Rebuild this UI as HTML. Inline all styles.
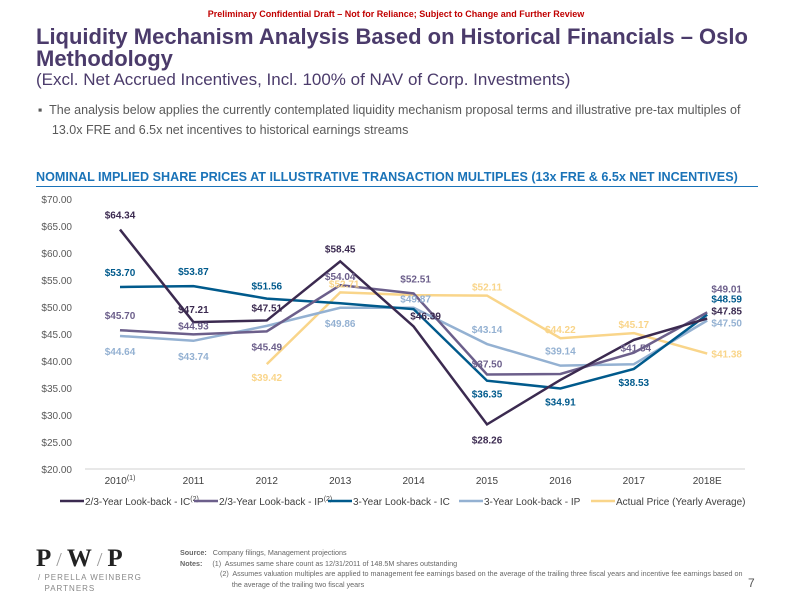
<!DOCTYPE html>
<html><head><meta charset="utf-8"><style>
body{margin:0;width:792px;height:612px;background:#fff;font-family:"Liberation Sans",sans-serif;position:relative;overflow:hidden}
.a{position:absolute;white-space:nowrap}
</style></head><body>
<div class="a" style="left:0;width:792px;text-align:center;top:9px;font-size:9px;font-weight:bold;color:#c00000">Preliminary Confidential Draft – Not for Reliance; Subject to Change and Further Review</div>
<div class="a" style="left:36px;top:26px;font-size:22px;font-weight:bold;color:#4b3b6b;line-height:22px;white-space:normal;width:720px">Liquidity Mechanism Analysis Based on Historical Financials – Oslo Methodology</div>
<div class="a" style="left:36px;top:70px;font-size:17px;color:#4b3b6b">(Excl. Net Accrued Incentives, Incl. 100% of NAV of Corp. Investments)</div>
<div class="a" style="left:38px;top:100px;font-size:12.5px;color:#595959;line-height:20px;white-space:normal;width:720px">▪&nbsp; The analysis below applies the currently contemplated liquidity mechanism proposal terms and illustrative pre-tax multiples of<br>&nbsp;&nbsp;&nbsp;&nbsp;13.0x FRE and 6.5x net incentives to historical earnings streams</div>
<div class="a" style="left:36px;top:170px;font-size:12.6px;font-weight:bold;color:#1a73b8">NOMINAL IMPLIED SHARE PRICES AT ILLUSTRATIVE TRANSACTION MULTIPLES (13x FRE &amp; 6.5x NET INCENTIVES)</div>
<div class="a" style="left:36px;top:186px;width:722px;height:1px;background:#1a73b8"></div>
<svg id="chart" class="a" style="left:0;top:0" width="792" height="540"></svg>
<div class="a" style="left:36px;top:545px;font-family:'Liberation Serif',serif;font-size:25px;font-weight:bold;color:#222">P<span style="font-weight:normal;color:#999;font-size:20px"> / </span>W<span style="font-weight:normal;color:#999;font-size:20px"> / </span>P</div>
<div class="a" style="left:38px;top:572px;font-size:8px;color:#888;line-height:11px;letter-spacing:1px">/ PERELLA WEINBERG<br>&nbsp;&nbsp;PARTNERS</div>
<div class="a" style="left:180px;top:548px;font-size:7.2px;color:#666;line-height:10.5px">
<b>Source:</b>&nbsp;&nbsp;&nbsp;Company filings, Management projections<br>
<b>Notes:</b>&nbsp;&nbsp;&nbsp;&nbsp;&nbsp;(1)&nbsp; Assumes same share count as 12/31/2011 of 148.5M shares outstanding<br>
&nbsp;&nbsp;&nbsp;&nbsp;&nbsp;&nbsp;&nbsp;&nbsp;&nbsp;&nbsp;&nbsp;&nbsp;&nbsp;&nbsp;&nbsp;&nbsp;&nbsp;&nbsp;&nbsp;&nbsp;(2)&nbsp; Assumes valuation multiples are applied to management fee earnings based on the average of the trailing three fiscal years and incentive fee earnings based on<br>
&nbsp;&nbsp;&nbsp;&nbsp;&nbsp;&nbsp;&nbsp;&nbsp;&nbsp;&nbsp;&nbsp;&nbsp;&nbsp;&nbsp;&nbsp;&nbsp;&nbsp;&nbsp;&nbsp;&nbsp;&nbsp;&nbsp;&nbsp;&nbsp;&nbsp; the average of the trailing two fiscal years</div>
<div class="a" style="left:748px;top:576px;font-size:12px;color:#555">7</div>
<script>
const categories=["2010","2011","2012","2013","2014","2015","2016","2017","2018E"];
const yTicks=[20,25,30,35,40,45,50,55,60,65,70];
const sIC23=[64.34,47.21,47.51,58.45,46.39,28.26,36.5,43.9,47.85];
const sIP23=[45.70,44.93,45.49,54.04,52.51,37.50,37.6,41.54,49.01];
const sIC3=[53.70,53.87,51.56,50.7,49.6,36.35,34.91,38.53,48.59];
const sIP3=[44.64,43.74,46.5,49.86,49.87,43.14,39.14,39.4,47.50];
const sAct=[null,null,39.42,52.71,52.2,52.11,44.22,45.17,41.38];
const lIC23=[true,true,true,true,true,true,false,false,true];
const lIP23=[true,true,true,true,true,true,false,true,true];
const lIC3=[true,true,true,false,false,true,true,true,true];
const lIP3=[true,true,false,true,true,true,true,false,true];
const lAct=[false,false,true,true,false,true,true,true,true];
const svg=document.getElementById('chart');const NS='http://www.w3.org/2000/svg';
const x0=120,dx=73.4,yAt=v=>469-(v-20)*5.4,xAt=i=>x0+i*dx;
function mk(t,a,p){const e=document.createElementNS(NS,t);for(const k in a)e.setAttribute(k,a[k]);(p||svg).appendChild(e);return e;}
yTicks.forEach(t=>{const e=mk('text',{x:72,y:yAt(t)+4,'text-anchor':'end','font-size':'10',fill:'#595959'});e.textContent='$'+t.toFixed(2);

});
const ax=mk('line',{x1:85,x2:745,y1:469,y2:469,stroke:'#d0d0d0'});


categories.forEach((c,i)=>{const e=mk('text',{x:xAt(i),y:484,'text-anchor':'middle','font-size':'10',fill:'#404040'});e.textContent=c;
if(i==0){const s=mk('tspan',{dy:-4,'font-size':'7'},e);s.textContent='(1)';}

});
const series=[
 {d:sAct,l:lAct,c:'#f9d58a',n:'actual-price',pos:[0,0,14,-8,0,-8,-8,-8,4],dxs:[0,0,0,4,0,0,0,0,0]},
 {d:sIP3,l:lIP3,c:'#94b1d2',n:'3yr-ip',pos:[16,16,0,16,-8,-14,-14,0,6],dxs:[0,0,0,0,2,0,0,0,0]},
 {d:sIC3,l:lIC3,c:'#005a8c',n:'3yr-ic',pos:[-14,-14,-12,0,0,14,14,14,-12],dxs:[0,0,0,0,0,0,0,0,0]},
 {d:sIP23,l:lIP23,c:'#6c5f8b',n:'2-3yr-ip',pos:[-14,-8,16,-8,-14,-10,0,-4,-20],dxs:[0,0,0,0,2,0,0,2,0]},
 {d:sIC23,l:lIC23,c:'#3b2a50',n:'2-3yr-ic',pos:[-14,-12,-12,-12,-10,16,0,0,-4],dxs:[0,0,0,0,12,0,0,0,0]}];
series.forEach(s=>{let p='';s.d.forEach((v,i)=>{if(v==null)return;p+=(p?'L':'M')+xAt(i)+','+yAt(v);});
const e=mk('path',{d:p,fill:'none',stroke:s.c,'stroke-width':'2.5'});

});
series.forEach(s=>{s.d.forEach((v,i)=>{if(v==null||!s.l[i])return;const last=i==8;
const t=mk('text',{x:last?742:xAt(i)+s.dxs[i],y:yAt(v)+s.pos[i]+(last?0:3),'text-anchor':last?'end':'middle','font-size':'10','font-weight':'bold',fill:s.c});t.textContent='$'+v.toFixed(2);

});});
const leg=[['2/3-Year Look-back - IC','(2)','#3b2a50'],['2/3-Year Look-back - IP','(2)','#6c5f8b'],['3-Year Look-back - IC','','#005a8c'],['3-Year Look-back - IP','','#94b1d2'],['Actual Price (Yearly Average)','','#f9d58a']];
const lx=[60,194,328,459,591];
leg.forEach((g,i)=>{const l=mk('line',{x1:lx[i],x2:lx[i]+24,y1:501,y2:501,stroke:g[2],'stroke-width':'2.5'});


const t=mk('text',{x:lx[i]+25,y:505,'font-size':'10',fill:'#404040'});t.textContent=g[0];
if(g[1]){const s=mk('tspan',{dy:-4,'font-size':'7'},t);s.textContent=g[1];}

});
</script>
</body></html>
